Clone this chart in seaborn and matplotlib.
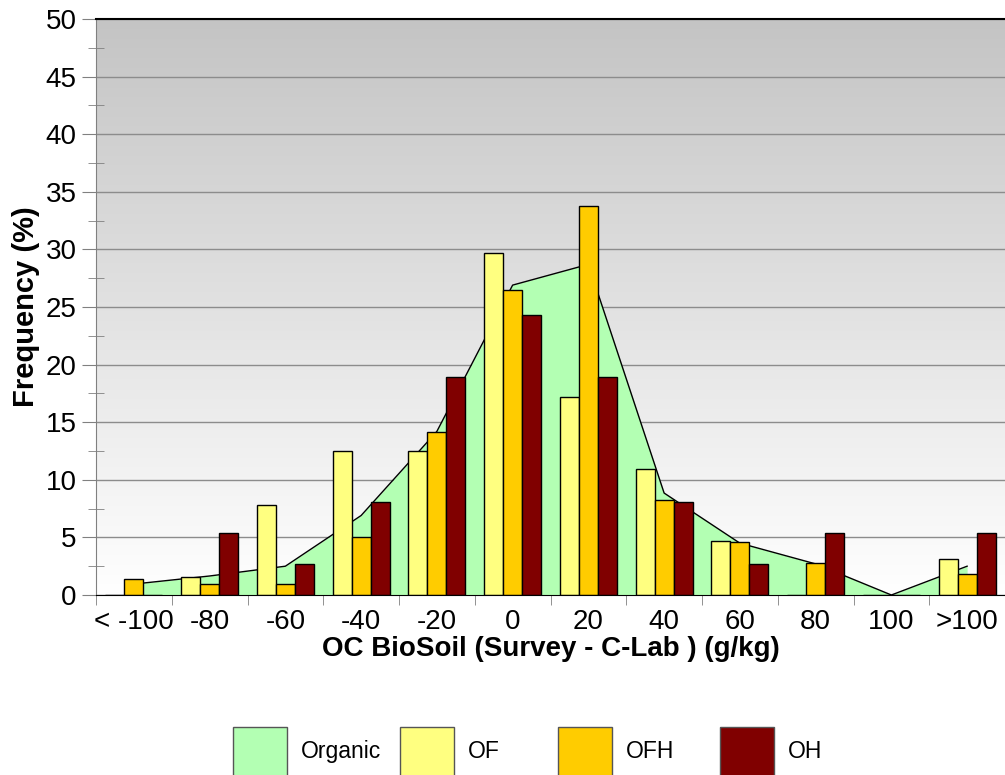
import numpy as np
import pandas as pd
import matplotlib.pyplot as plt
import seaborn as sns
from matplotlib.patches import Patch
from matplotlib.colors import LinearSegmentedColormap
from matplotlib.ticker import MultipleLocator

categories = ['< -100', '-80', '-60', '-40', '-20', '0', '20', '40', '60', '80', '100', '>100']
organic = [0.95, 1.65, 2.5, 6.9, 14.2, 26.9, 28.7, 8.85, 4.5, 2.7, 0.0, 2.5]
of_vals = [0.0, 1.56, 7.81, 12.5, 12.5, 29.69, 17.19, 10.94, 4.69, 0.0, 0.0, 3.13]
ofh_vals = [1.39, 0.93, 0.93, 5.03, 14.18, 26.5, 33.8, 8.25, 4.6, 2.75, 0.0, 1.85]
oh_vals = [0.0, 5.41, 2.7, 8.11, 18.92, 24.32, 18.92, 8.11, 2.7, 5.41, 0.0, 5.41]

horizons = ['OF', 'OFH', 'OH']
colors = {'Organic': '#b3ffb3', 'OF': '#ffff80', 'OFH': '#ffcc00', 'OH': '#800000'}

df = pd.DataFrame({'class': categories * 3,
                   'horizon': np.repeat(horizons, len(categories)),
                   'freq': of_vals + ofh_vals + oh_vals})

plt.rcParams['font.family'] = ['Liberation Sans', 'DejaVu Sans']

fig = plt.figure(figsize=(10.05, 7.75), dpi=100)
ax = fig.add_axes([96 / 1005, 1 - 595 / 775, 909 / 1005, 576 / 775])

# grey-to-white background
grad = np.linspace(0, 1, 256).reshape(-1, 1)
bg = LinearSegmentedColormap.from_list('bg', ['#ffffff', '#c4c4c4'])
ax.imshow(grad, extent=(-0.5, len(categories) - 0.5, 0, 50), aspect='auto',
          cmap=bg, origin='lower', zorder=0)

# organic area
x = np.arange(len(categories))
ax.fill_between(x, organic, color=colors['Organic'], lw=0, zorder=1)
sns.lineplot(x=x, y=organic, color='black', linewidth=1, ax=ax, zorder=1.5)

# horizon bars
sns.barplot(data=df, x='class', y='freq', hue='horizon', palette=colors,
            hue_order=horizons, order=categories, width=0.75, saturation=1,
            edgecolor='black', linewidth=1, ax=ax, zorder=2, legend=False)

ax.set_xlim(-0.5, len(categories) - 0.5)
ax.set_ylim(0, 50)
ax.yaxis.set_major_locator(MultipleLocator(5))
ax.yaxis.set_minor_locator(MultipleLocator(2.5))
ax.set_xticks(x)
ax.set_xticklabels(categories)
ax.set_xticks(np.arange(-0.5, len(categories), 1), minor=True)

ax.set_axisbelow(True)
ax.yaxis.grid(True, color='#8c8c8c', linewidth=1)

ax.tick_params(axis='y', which='major', length=10, color='#808080', labelsize=20, pad=4)
ax.tick_params(axis='y', which='minor', direction='inout', length=12, color='#808080')
ax.tick_params(axis='x', which='major', length=0, labelsize=20, pad=10)
ax.tick_params(axis='x', which='minor', length=7, color='#808080')

ax.spines['left'].set_color('#808080')
ax.spines['bottom'].set_color('black')
ax.spines['top'].set_color('black')
ax.spines['top'].set_linewidth(1.5)
ax.spines['right'].set_visible(False)

ax.set_xlabel('OC BioSoil (Survey - C-Lab ) (g/kg)', fontsize=20, fontweight='bold', labelpad=1)
ax.set_ylabel('Frequency (%)', fontsize=21, fontweight='bold', labelpad=4)

# legend, one entry per slot like the original
legend_x = [233, 400, 558, 720]
for name, lx in zip(['Organic'] + horizons, legend_x):
    h = Patch(facecolor=colors[name], edgecolor='#555555', label=name)
    fig.legend(handles=[h], loc='upper left', bbox_to_anchor=(lx / 1005, 1 - 727 / 775),
               frameon=False, fontsize=16.5, handlelength=2.36, handleheight=2.9,
               handletextpad=0.6, borderpad=0, borderaxespad=0)

fig.savefig('out.png', dpi=100)
